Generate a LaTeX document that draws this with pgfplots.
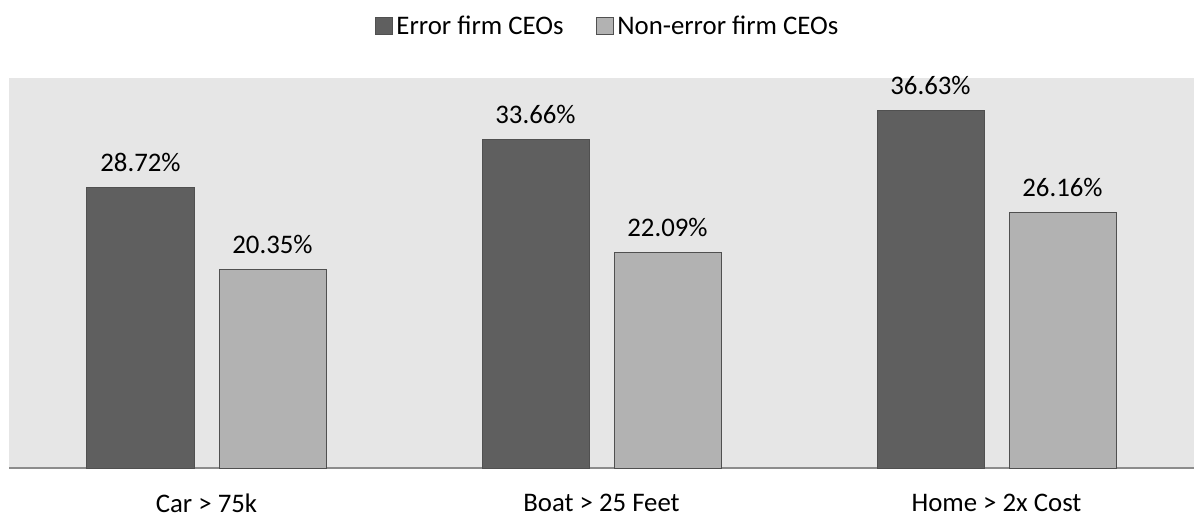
\documentclass[border=0pt]{standalone}
\usepackage{pgfplots}
\pgfplotsset{compat=1.18}
\usepackage{fontspec}
\setmainfont{Carlito}
\definecolor{bgc}{HTML}{E6E6E6}
\definecolor{darkbar}{HTML}{5F5F5F}
\definecolor{lightbar}{HTML}{B2B2B2}
\definecolor{edgec}{HTML}{505050}
\definecolor{basec}{HTML}{8C8C8C}
\begin{document}
\begin{tikzpicture}[font=\fontsize{26.8bp}{32bp}\selectfont]
\begin{axis}[
  scale only axis,
  width=1185bp, height=390bp,
  xmin=-0.5, xmax=2.5, ymin=0, ymax=40,
  axis background/.style={fill=bgc},
  axis x line=bottom, axis y line=none,
  x axis line style={-, draw=basec, line width=1.5bp},
  xtick={0,1,2},
  xticklabels={Car > 75k, Boat > 25 Feet, Home > 2x Cost},
  major tick length=0pt,
  ytick=\empty,
  xticklabel style={anchor=center, yshift=-35bp},
  ybar=25bp, bar width=107bp,
  nodes near coords={\pgfmathprintnumber[fixed,fixed zerofill,precision=2,assume math mode=true]{\pgfplotspointmeta}\%},
  nodes near coords style={anchor=center, yshift=25.5bp, text=black},
  legend style={at={(0.5,1)}, anchor=center, xshift=6bp, yshift=52bp, draw=none, fill=none,
    legend columns=-1,
    /tikz/every odd column/.append style={column sep=2bp},
    /tikz/every even column/.append style={column sep=30bp}},
  legend image code/.code={\draw[#1, line width=0.8bp] (0bp,-8.5bp) rectangle (17bp,8.5bp);},
  clip=false,
]
\addplot[fill=darkbar, draw=edgec, line width=1bp] coordinates {(0,28.72) (1,33.66) (2,36.63)};
\addplot[fill=lightbar, draw=edgec, line width=1bp] coordinates {(0,20.35) (1,22.09) (2,26.16)};
\legend{Error firm CEOs, Non-error firm CEOs}
\coordinate (sw) at (rel axis cs:0,0);
\coordinate (ne) at (rel axis cs:1,1);
\end{axis}
\pgfresetboundingbox
\useasboundingbox ([xshift=-9bp,yshift=-53bp]sw) rectangle ([yshift=78bp]ne);
\end{tikzpicture}
\end{document}
